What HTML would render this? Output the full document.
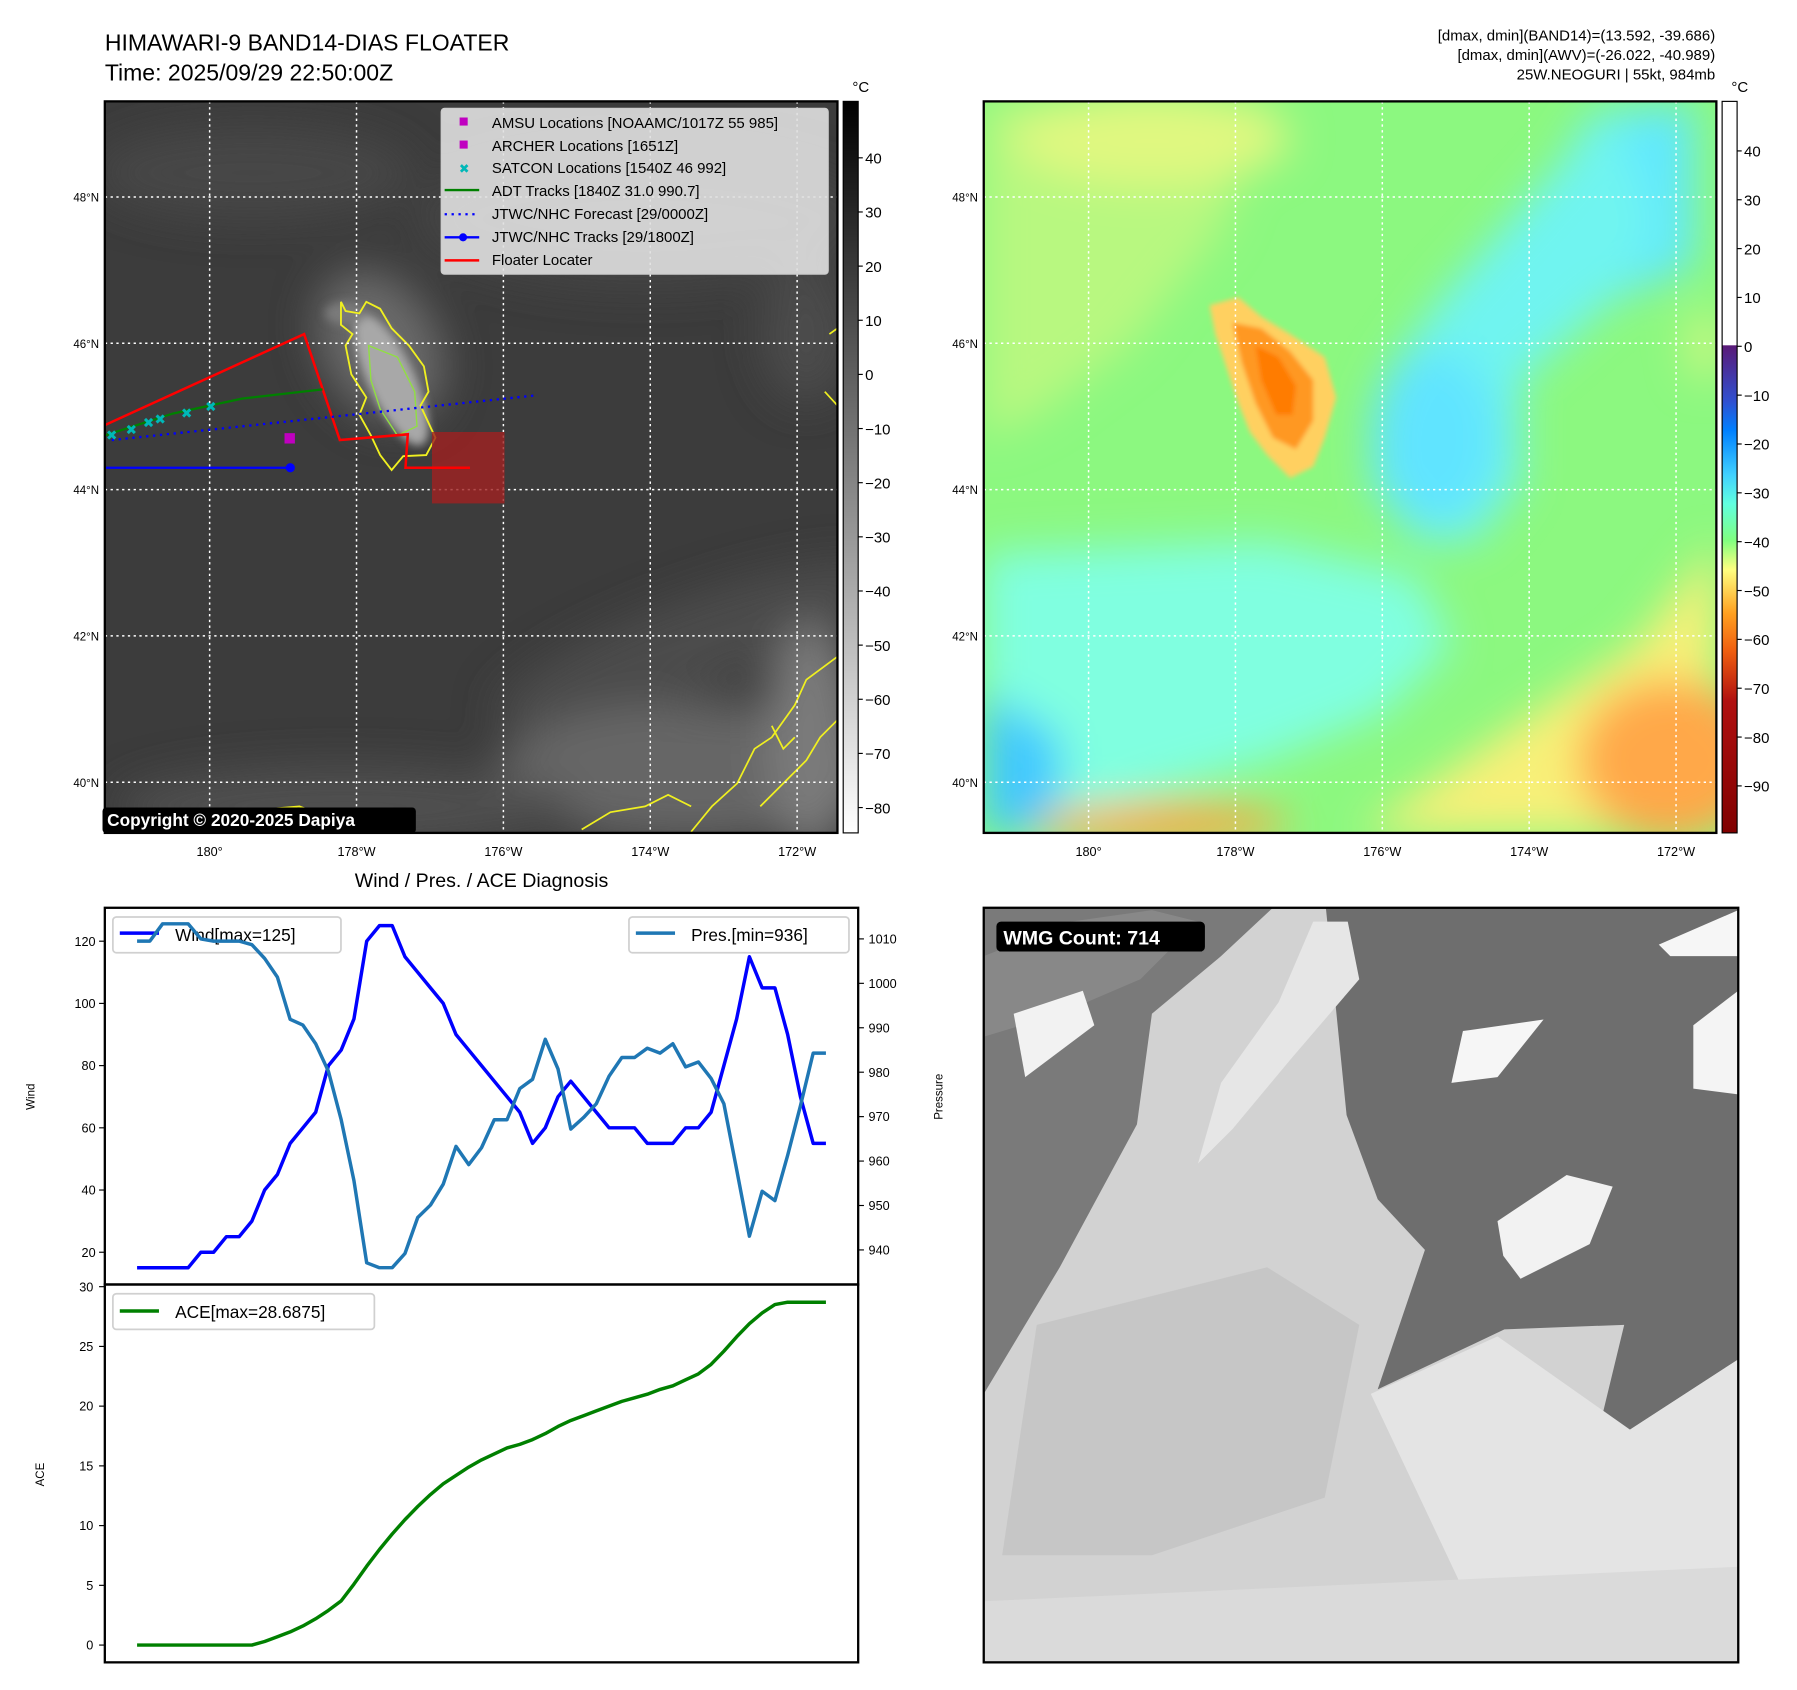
<!DOCTYPE html>
<html><head><meta charset="utf-8"><style>
html,body{margin:0;padding:0;background:#fff;}
svg{display:block;font-family:"Liberation Sans","DejaVu Sans",sans-serif;}
</style></head><body>
<svg id="fig" width="1797" height="1690" viewBox="0 0 1560 1467" preserveAspectRatio="none" xmlns="http://www.w3.org/2000/svg">
<defs>
<linearGradient id="grayCb" x1="0" y1="0" x2="0" y2="1"><stop offset="0" stop-color="#000"/><stop offset="1" stop-color="#fff"/></linearGradient>
<linearGradient id="colCb" x1="0" y1="0" x2="0" y2="1">
<stop offset="0" stop-color="#fff"/><stop offset="0.333" stop-color="#fff"/><stop offset="0.334" stop-color="#5a1a78"/>
<stop offset="0.41" stop-color="#3050d0"/><stop offset="0.45" stop-color="#0080ff"/><stop offset="0.51" stop-color="#40d0ff"/>
<stop offset="0.55" stop-color="#60ffe0"/><stop offset="0.60" stop-color="#80ff80"/><stop offset="0.64" stop-color="#ffff80"/>
<stop offset="0.70" stop-color="#ffa020"/><stop offset="0.75" stop-color="#f06010"/><stop offset="0.82" stop-color="#b01010"/><stop offset="1" stop-color="#800000"/></linearGradient>
<filter id="blur8"><feGaussianBlur stdDeviation="18"/></filter>
<filter id="blur4"><feGaussianBlur stdDeviation="4"/></filter>
<filter id="blur2"><feGaussianBlur stdDeviation="2"/></filter>
<clipPath id="clipL"><rect x="91" y="88" width="636" height="635"/></clipPath>
<clipPath id="clipR"><rect x="854" y="88" width="636" height="635"/></clipPath>
<clipPath id="clipW"><rect x="854" y="788" width="655" height="655"/></clipPath>
</defs>

<text x="91" y="44" font-size="20">HIMAWARI-9 BAND14-DIAS FLOATER</text>
<text x="91" y="70" font-size="20">Time: 2025/09/29 22:50:00Z</text>
<text x="1489" y="35" font-size="13" text-anchor="end">[dmax, dmin](BAND14)=(13.592, -39.686)</text>
<text x="1489" y="52" font-size="13" text-anchor="end">[dmax, dmin](AWV)=(-26.022, -40.989)</text>
<text x="1489" y="69" font-size="13" text-anchor="end">25W.NEOGURI | 55kt, 984mb</text>

<!-- Left IR map -->
<g clip-path="url(#clipL)">
<rect x="91" y="88" width="636" height="635" fill="#3c3c3c"/>
<g filter="url(#blur8)">
<ellipse cx="220" cy="150" rx="140" ry="40" fill="#474747"/>
<ellipse cx="560" cy="190" rx="200" ry="60" fill="#444"/>
<ellipse cx="330" cy="300" rx="50" ry="70" fill="#6a6a6a" transform="rotate(-30 330 300)"/>
<ellipse cx="600" cy="560" rx="180" ry="40" fill="#4c4c4c" transform="rotate(-20 600 560)"/>
<ellipse cx="600" cy="670" rx="170" ry="60" fill="#666"/>
<ellipse cx="300" cy="700" rx="200" ry="35" fill="#505050"/>
<ellipse cx="705" cy="640" rx="40" ry="100" fill="#7a7a7a"/>
<ellipse cx="700" cy="290" rx="40" ry="60" fill="#4c4c4c"/>
</g>
<g filter="url(#blur4)">
<ellipse cx="340" cy="330" rx="20" ry="62" fill="#a8a8a8" transform="rotate(-25 340 330)"/>
<ellipse cx="300" cy="272" rx="18" ry="10" fill="#7a7a7a"/>
</g>
<path d="M296,262 L300,270 L312,272 L318,262 L330,268 L340,285 L355,300 L368,318 L372,340 L365,352 L378,380 L370,395 L350,396 L340,408 L330,395 L322,378 L312,360 L318,345 L305,325 L300,300 L306,290 L296,282 Z" fill="none" stroke="#f0f020" stroke-width="1.6"/>
<path d="M320,300 L345,310 L360,340 L362,370 L345,378 L330,355 L322,330 Z" fill="none" stroke="#90e040" stroke-width="1.2"/>
<path d="M600,722 L618,700 L640,680 L655,650 L670,640 L690,612 L700,590 L727,570 M660,700 L680,680 L700,660 L712,640 L727,625 M505,720 L530,705 L560,700 L580,690 L600,700 M670,630 L680,650 L690,640" fill="none" stroke="#f0f020" stroke-width="1.5"/>
<path d="M150,718 L200,705 L260,700 L300,715" fill="none" stroke="#f0f020" stroke-width="1.5"/>
<path d="M720,290 L727,285 M716,340 L727,352" fill="none" stroke="#f0f020" stroke-width="1.5"/>
</g>
<g id="gridL"></g>
<rect x="375" y="375" width="63" height="62" fill="#a02020" opacity="0.8"/>
<polyline points="91,369 264,290 295,382 354,377 352,406 408,406" fill="none" stroke="#ff0000" stroke-width="2.2"/>
<polyline points="91,378 150,359 210,346 280,338" fill="none" stroke="#008000" stroke-width="2"/>
<line x1="97" y1="382" x2="467" y2="343" stroke="#0000ff" stroke-width="2" stroke-dasharray="2,4"/>
<line x1="91" y1="406" x2="252" y2="406" stroke="#0000ff" stroke-width="2"/>
<circle cx="252" cy="406" r="4" fill="#0000ff"/>
<rect x="247" y="376" width="9" height="9" fill="#c000c0"/>
<g fill="#00b8b8" font-size="12" text-anchor="middle">
<text x="97" y="382">✖</text><text x="114" y="377">✖</text><text x="129" y="371">✖</text><text x="139" y="368">✖</text><text x="162" y="363">✖</text><text x="183" y="357">✖</text></g>
<rect x="91" y="88" width="636" height="635" fill="none" stroke="#000" stroke-width="2"/>
<g font-size="13">
<rect x="383" y="94" width="336" height="144" fill="#e0e0e0" fill-opacity="0.9" stroke="#ccc" rx="3"/>
<rect x="399" y="102" width="7" height="7" fill="#c000c0"/><text x="427" y="111">AMSU Locations [NOAAMC/1017Z 55 985]</text>
<rect x="399" y="122" width="7" height="7" fill="#c000c0"/><text x="427" y="131">ARCHER Locations [1651Z]</text>
<text x="403" y="150" fill="#00b8b8" font-size="11" text-anchor="middle">✖</text><text x="427" y="150">SATCON Locations [1540Z 46 992]</text>
<line x1="386" y1="165" x2="416" y2="165" stroke="#008000" stroke-width="2"/><text x="427" y="170">ADT Tracks [1840Z 31.0 990.7]</text>
<line x1="386" y1="186" x2="416" y2="186" stroke="#0000ff" stroke-width="2" stroke-dasharray="2,4"/><text x="427" y="190">JTWC/NHC Forecast [29/0000Z]</text>
<line x1="386" y1="206" x2="416" y2="206" stroke="#0000ff" stroke-width="2"/><circle cx="402" cy="206" r="3.5" fill="#0000ff"/><text x="427" y="210">JTWC/NHC Tracks [29/1800Z]</text>
<line x1="386" y1="226" x2="416" y2="226" stroke="#ff0000" stroke-width="2.2"/><text x="427" y="230">Floater Locater</text>
</g>
<g><rect x="89" y="701" width="272" height="22" rx="3" fill="#000"/>
<text x="93" y="717" font-size="15" font-weight="bold" fill="#fff">Copyright © 2020-2025 Dapiya</text></g>
<rect x="732" y="88" width="13" height="635" fill="url(#grayCb)" stroke="#000" stroke-width="1"/>
<text x="740" y="80" font-size="13">°C</text>
<g id="cbL" font-size="13"></g>

<!-- Right AWV map -->
<g clip-path="url(#clipR)">
<rect x="854" y="88" width="636" height="635" fill="#8cf880"/>
<g filter="url(#blur8)">
<polygon points="854,88 1100,88 1060,200 980,300 900,360 854,380" fill="#b8f880"/>
<ellipse cx="1000" cy="120" rx="120" ry="40" fill="#e0f880"/>
<polygon points="1380,100 1470,90 1470,230 1400,260 1330,250 1340,170" fill="#60e8ff"/>
<polygon points="1400,90 1330,170 1250,260 1200,330 1190,420 1230,470 1280,470 1320,420 1320,330 1400,260 1440,200" fill="#70f4f0"/>
<ellipse cx="1245" cy="380" rx="55" ry="75" fill="#60e4ff"/>
<polygon points="854,480 1100,470 1230,500 1260,560 1200,620 1100,660 960,700 854,720" fill="#80ffe0"/>
<polygon points="854,600 920,640 920,723 854,723" fill="#40c8ff"/>
<polygon points="1490,470 1490,723 1180,723 1300,640 1420,560" fill="#f8f078"/>
<ellipse cx="1450" cy="660" rx="80" ry="70" fill="#ffa848"/>
<ellipse cx="1010" cy="715" rx="110" ry="18" fill="#ffa848"/>
<ellipse cx="1480" cy="300" rx="14" ry="30" fill="#d8f880"/>
</g>
<g filter="url(#blur2)">
<path d="M1050,265 L1075,258 L1095,275 L1120,290 L1150,310 L1160,345 L1150,380 L1140,405 L1120,415 L1100,395 L1085,375 L1075,350 L1065,320 L1055,290 Z" fill="#ffd060"/>
<path d="M1070,280 L1095,285 L1120,305 L1140,330 L1140,365 L1125,390 L1105,380 L1090,350 L1078,315 Z" fill="#ff9820"/>
<path d="M1090,300 L1110,310 L1125,335 L1122,360 L1108,360 L1095,330 Z" fill="#ff7c00"/>
</g>
</g>
<g id="gridR"></g>
<rect x="854" y="88" width="636" height="635" fill="none" stroke="#000" stroke-width="2"/>
<rect x="1495" y="88" width="13" height="635" fill="url(#colCb)" stroke="#000" stroke-width="1"/>
<text x="1503" y="80" font-size="13">°C</text>
<g id="cbR" font-size="13"></g>

<text x="418" y="770" font-size="17" text-anchor="middle">Wind / Pres. / ACE Diagnosis</text>
<g id="windChart"></g>
<g id="aceChart"></g>

<!-- WMG panel -->
<g clip-path="url(#clipW)">
<rect x="854" y="788" width="655" height="655" fill="#d2d2d2"/>
<polygon points="854,788 1105,788 1060,830 1000,880 987,976 920,1100 851,1215" fill="#7a7a7a"/>
<polygon points="854,830 930,800 1000,790 1040,800 990,850 920,880 854,900" fill="#888"/>
<polygon points="1151,788 1509,788 1509,1180 1415,1241 1387,1245 1410,1150 1306,1154 1196,1206 1237,1085 1196,1041 1169,968" fill="#6e6e6e"/>
<polygon points="1140,800 1170,800 1180,850 1120,920 1070,980 1040,1010 1060,940 1110,870" fill="#e6e6e6"/>
<polygon points="880,880 940,860 950,890 890,935" fill="#f2f2f2"/>
<polygon points="1300,1060 1360,1020 1400,1030 1380,1080 1320,1110 1305,1090" fill="#f2f2f2"/>
<polygon points="1270,895 1340,885 1300,935 1260,940" fill="#f6f6f6"/>
<polygon points="1440,820 1509,790 1509,830 1450,830" fill="#f6f6f6"/>
<polygon points="1470,890 1509,860 1509,950 1470,945" fill="#f4f4f4"/>
<polygon points="1190,1210 1300,1160 1415,1241 1509,1180 1509,1443 1300,1443" fill="#e4e4e4"/>
<polygon points="900,1150 1100,1100 1180,1150 1150,1300 1000,1350 870,1350" fill="#c6c6c6"/>
<polygon points="854,1390 1509,1360 1509,1443 854,1443" fill="#dadada"/>
</g>
<rect x="854" y="788" width="655" height="655" fill="none" stroke="#000" stroke-width="2"/>
<g><rect x="865" y="800" width="181" height="26" rx="4" fill="#000"/>
<text x="871" y="820" font-size="17" font-weight="bold" fill="#fff">WMG Count: 714</text></g>

<script>
var windVals=[15,15,15,15,15,20,20,25,25,30,40,45,55,60,65,80,85,95,120,125,125,115,110,105,100,90,85,80,75,70,65,55,60,70,75,70,65,60,60,60,55,55,55,60,60,65,80,95,115,105,105,90,70,55,55];
var presVals=[1009.5,1009.5,1013.4,1013.4,1013.4,1010,1009.5,1009.5,1009.5,1008.7,1005.6,1001.4,991.9,990.6,986.4,980.2,969.3,955.6,937.1,936,936,939.2,947.3,950.1,954.8,963.3,959.2,963,969.3,969.3,976.3,978.4,987.4,980.7,967.2,969.8,972.9,979.1,983.3,983.3,985.4,984.3,986.4,981.2,982.3,978.6,972.9,958.1,943.1,953.2,951.1,961.3,972.4,984.3,984.3];
var aceVals=[0,0,0,0,0,0,0,0,0,0,0.3,0.7,1.1,1.6,2.2,2.9,3.7,5.1,6.6,8,9.3,10.5,11.6,12.6,13.5,14.2,14.9,15.5,16.0,16.5,16.8,17.2,17.7,18.3,18.8,19.2,19.6,20.0,20.4,20.7,21.0,21.4,21.7,22.2,22.7,23.5,24.6,25.8,26.9,27.8,28.5,28.7,28.7,28.7,28.7];
var windTicks=[20,40,60,80,100,120];
var presTicks=[940,950,960,970,980,990,1000,1010];
var aceTicks=[0,5,10,15,20,25,30];
var irTicks=[40,30,20,10,0,-10,-20,-30,-40,-50,-60,-70,-80];
var awvTicks=[40,30,20,10,0,-10,-20,-30,-40,-50,-60,-70,-80,-90];
var lonLabels=["180°","178°W","176°W","174°W","172°W"];
var latLabels=["48°N","46°N","44°N","42°N","40°N"];

var NS="http://www.w3.org/2000/svg";
function mk(tag,attrs,parent,text){var e=document.createElementNS(NS,tag);for(var k in attrs)e.setAttribute(k,attrs[k]);if(text!==undefined)e.textContent=text;parent.appendChild(e);return e;}
function xIdx(i){return 119+i*(717-119)/(windVals.length-1);}
function yWind(v){return 1087-(v-20)*2.7;}
function yPres(v){return 1085-(v-940)*3.857;}
function yAce(v){return 1428-v*10.37;}
function lon(i){return 182+i*127.5;}
function lat(i){return 171+i*127;}

[["gridL",0],["gridR",763]].forEach(function(g){
 var p=document.getElementById(g[0]);
 for(var i=0;i<5;i++){
  var l=mk('line',{x1:lon(i)+g[1],y1:88,x2:lon(i)+g[1],y2:723,stroke:'#fff','stroke-width':1.3,'stroke-dasharray':'2,3'},p);
  
  
  var h=mk('line',{x1:91+g[1],y1:lat(i),x2:727+g[1],y2:lat(i),stroke:'#fff','stroke-width':1.3,'stroke-dasharray':'2,3'},p);
  
  
  var t=mk('text',{x:lon(i)+g[1],y:743,'font-size':11,'text-anchor':'middle'},p,lonLabels[i]);
  
  
  var t2=mk('text',{x:86+g[1],y:lat(i)+4,'font-size':10,'text-anchor':'end'},p,latLabels[i]);
  
  
 }
});
(function(){
 var p=document.getElementById('cbL');
 irTicks.forEach(function(v){var y=137+(40-v)*4.7;
  mk('line',{x1:745,y1:y,x2:749,y2:y,stroke:'#000'},p);
  var t=mk('text',{x:751,y:y+5},p,(v<0?'\u2212'+(-v):v));
  
  });
 var q=document.getElementById('cbR');
 awvTicks.forEach(function(v){var y=131+(40-v)*4.24;
  mk('line',{x1:1508,y1:y,x2:1512,y2:y,stroke:'#000'},q);
  var t=mk('text',{x:1514,y:y+5},q,(v<0?'\u2212'+(-v):v));
  
  });
})();

(function(){
 var p=document.getElementById('windChart');
 windTicks.forEach(function(v){var y=yWind(v);
  mk('line',{x1:86,y1:y,x2:91,y2:y,stroke:'#000'},p);
  var t=mk('text',{x:83,y:y+4,'font-size':11,'text-anchor':'end'},p,v);
  
  });
 presTicks.forEach(function(v){var y=yPres(v);
  mk('line',{x1:745,y1:y,x2:750,y2:y,stroke:'#000'},p);
  var t=mk('text',{x:754,y:y+4,'font-size':11},p,v);
  
  });
 var yl=mk('text',{x:30,y:952,'font-size':10,'text-anchor':'middle',transform:'rotate(-90 30 952)'},p,'Wind');
 
 
 var yr=mk('text',{x:818,y:952,'font-size':10,'text-anchor':'middle',transform:'rotate(-90 818 952)'},p,'Pressure');
 
 
 var pts=windVals.map(function(v,i){return xIdx(i)+','+yWind(v);}).join(' ');
 var wl=mk('polyline',{points:pts,fill:'none',stroke:'#0000ff','stroke-width':3,'stroke-linejoin':'round'},p);
 
 
 var lg=mk('g',{},p);
 
 
 mk('rect',{x:98,y:796,width:198,height:31,rx:3,fill:'#fff','fill-opacity':0.8,stroke:'#d0d0d0','stroke-width':1.5},lg);
 mk('line',{x1:104,y1:810,x2:138,y2:810,stroke:'#0000ff','stroke-width':3},lg);
 mk('text',{x:152,y:817,'font-size':15},lg,'Wind[max=125]');
 var pp=presVals.map(function(v,i){return xIdx(i)+','+yPres(v);}).join(' ');
 var pl=mk('polyline',{points:pp,fill:'none',stroke:'#1f77b4','stroke-width':3,'stroke-linejoin':'round'},p);
 
 
 var lg2=mk('g',{},p);
 
 
 mk('rect',{x:546,y:796,width:191,height:31,rx:3,fill:'#fff','fill-opacity':0.8,stroke:'#d0d0d0','stroke-width':1.5},lg2);
 mk('line',{x1:552,y1:810,x2:586,y2:810,stroke:'#1f77b4','stroke-width':3},lg2);
 mk('text',{x:600,y:817,'font-size':15},lg2,'Pres.[min=936]');
 mk('rect',{x:91,y:788,width:654,height:327,fill:'none',stroke:'#000','stroke-width':2},p);
})();

(function(){
 var p=document.getElementById('aceChart');
 aceTicks.forEach(function(v){var y=yAce(v);
  mk('line',{x1:86,y1:y,x2:91,y2:y,stroke:'#000'},p);
  var t=mk('text',{x:81,y:y+4,'font-size':11,'text-anchor':'end'},p,v);
  
  });
 var yl=mk('text',{x:38,y:1280,'font-size':10,'text-anchor':'middle',transform:'rotate(-90 38 1280)'},p,'ACE');
 
 
 var pts=aceVals.map(function(v,i){return xIdx(i)+','+yAce(v);}).join(' ');
 var al=mk('polyline',{points:pts,fill:'none',stroke:'#008000','stroke-width':3,'stroke-linejoin':'round'},p);
 
 
 var lg=mk('g',{},p);
 
 
 mk('rect',{x:98,y:1123,width:227,height:31,rx:3,fill:'#fff','fill-opacity':0.8,stroke:'#d0d0d0','stroke-width':1.5},lg);
 mk('line',{x1:104,y1:1138,x2:138,y2:1138,stroke:'#008000','stroke-width':3},lg);
 mk('text',{x:152,y:1144,'font-size':15},lg,'ACE[max=28.6875]');
 mk('rect',{x:91,y:1115,width:654,height:328,fill:'none',stroke:'#000','stroke-width':2},p);
})();
</script>
</svg>
</body></html>
